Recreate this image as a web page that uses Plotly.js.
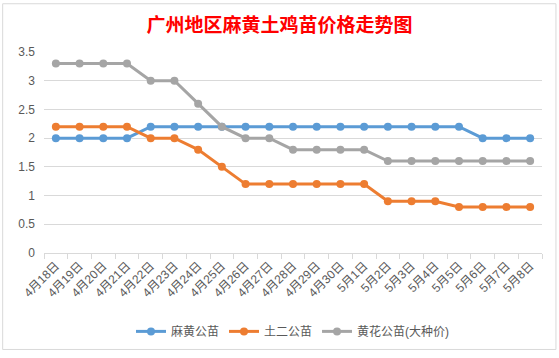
<!DOCTYPE html>
<html>
<head>
<meta charset="utf-8">
<script src="https://cdn.plot.ly/plotly-3.0.1.min.js"></script>
<style>html,body{margin:0;padding:0;background:#fff;}#chart{width:559px;height:358px;}</style>
</head>
<body>
<div id="chart"></div>
<script>
const dates = ["4月18日","4月19日","4月20日","4月21日","4月22日","4月23日","4月24日","4月25日","4月26日","4月27日","4月28日","4月29日","4月30日","5月1日","5月2日","5月3日","5月4日","5月5日","5月6日","5月7日","5月8日"];
const mahuang = [2,2,2,2,2.2,2.2,2.2,2.2,2.2,2.2,2.2,2.2,2.2,2.2,2.2,2.2,2.2,2.2,2,2,2];
const tuer = [2.2,2.2,2.2,2.2,2,2,1.8,1.5,1.2,1.2,1.2,1.2,1.2,1.2,0.9,0.9,0.9,0.8,0.8,0.8,0.8];
const huanghua = [3.3,3.3,3.3,3.3,3,3,2.6,2.2,2,2,1.8,1.8,1.8,1.8,1.6,1.6,1.6,1.6,1.6,1.6,1.6];
const seriesNames = ["麻黄公苗","土二公苗","黄花公苗(大种价)"];
const yTicks = [0,0.5,1,1.5,2,2.5,3,3.5];

const colors = ["#5B9BD5","#ED7D31","#A5A5A5"];
const font = "Liberation Sans, Noto Sans CJK SC, sans-serif";
const traces = [mahuang, tuer, huanghua].map((ys,i)=>({
  type:'scatter', mode:'lines+markers', x:dates, y:ys, name:seriesNames[i],
  line:{color:colors[i], width:3}, marker:{color:colors[i], size:8}, cliponaxis:false
}));

const layout = {
  width:559, height:358,
  margin:{l:44, r:17, t:52, b:101},
  paper_bgcolor:'#fff', plot_bgcolor:'#fff',
  title:{text:'<b>广州地区麻黄土鸡苗价格走势图</b>', font:{family:'Noto Sans CJK SC, sans-serif', size:19, color:'#FF0000'}, x:0.5, xanchor:'center', y:0.928, yanchor:'middle'},
  xaxis:{type:'category', range:[-0.5, dates.length-0.5], automargin:false, showgrid:false, showline:true, linecolor:'#D9D9D9', linewidth:1,
    ticks:'outside', tickson:'boundaries', ticklen:5, tickcolor:'#D9D9D9',
    tickangle:-45, tickfont:{family:font, size:12, color:'#595959'}, fixedrange:true},
  yaxis:{automargin:false, range:[0,3.5], tickvals:yTicks, ticktext:yTicks.map(String), showgrid:true, gridcolor:'#D9D9D9', gridwidth:1,
    zeroline:false, showline:false, ticks:'', ticklabelstandoff:8, tickfont:{family:font, size:12, color:'#595959'}},
  legend:{orientation:'h', x:0.5, xanchor:'center', y:-0.39, yanchor:'middle', font:{family:font, size:12, color:'#595959'}, itemwidth:30, tracegroupgap:0},
  showlegend:true,
  shapes:[{type:'rect', xref:'paper', yref:'paper', x0:-0.083, x1:1.028, y0:-0.48, y1:1.24, line:{color:'#D9D9D9', width:1}}]
};
Plotly.newPlot('chart', traces, layout, {displayModeBar:false, staticPlot:true});
</script>
</body>
</html>
